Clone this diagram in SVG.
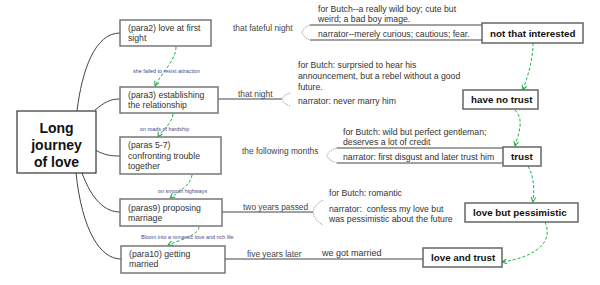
<svg xmlns="http://www.w3.org/2000/svg" width="600" height="285" viewBox="0 0 600 285">
<defs>
<style>
text{font-family:"Liberation Sans",Arial,sans-serif;fill:#333}
.n{font-size:8.7px}
.b{font-size:9.8px;font-weight:bold;fill:#111}
.lab{font-size:8.4px;fill:#444}
.sm{font-size:5.4px;fill:#4a4a90}
.box{fill:#fff;stroke:#777;stroke-width:1.5}
.rbox{fill:#fff;stroke:#666;stroke-width:1.5}
.br{fill:none;stroke:#444;stroke-width:1}
.brace{fill:none;stroke:#999;stroke-width:1;stroke-dasharray:1.5 1}
.g{fill:none;stroke:#21b04b;stroke-width:1;stroke-dasharray:3 2;marker-end:url(#ar)}
</style>
<marker id="ar" viewBox="0 0 10 10" refX="9" refY="5" markerWidth="6" markerHeight="6" orient="auto">
<path d="M1,1 L9,5 L1,9" fill="none" stroke="#21b04b" stroke-width="1.8"/>
</marker>
</defs>
<rect width="600" height="285" fill="#fff"/>

<g id="connectors">
<path class="br" d="M77,111 C82,70 95,33 120,33"/>
<path class="br" d="M95,110 C105,102 110,99 120,99"/>
<path class="br" d="M95,150 C105,155 110,156 120,156"/>
<path class="br" d="M82,173 C92,200 105,212 120,212"/>
<path class="br" d="M76,173 C82,230 100,259 121,259"/>

<path class="br" d="M218,99 H282"/>
<path class="br" d="M222,212 H313"/>
<path class="br" d="M225,259 H423"/>

<path class="br" d="M310,25 H482 M310,40 H482"/>
<path class="brace" d="M310,25 Q304,27 302,32.5 Q304,38 310,40"/>
<path class="brace" d="M290,93 Q284,95 282,99 Q284,104 290,106"/>
<path class="br" d="M337,148 H503 M337,163 H503"/>
<path class="brace" d="M337,148 Q329,150 327,155.5 Q329,161 337,163"/>
<path class="brace" d="M323,200 Q314,205 313,212 Q314,220 323,225"/>

<path class="g" d="M176,47 C176,60 160,75 155,86"/>
<path class="g" d="M173,114 C172,124 162,130 158,137"/>
<path class="g" d="M192,175 C191,185 178,192 170,198"/>
<path class="g" d="M199,227 C199,235 180,240 168,245"/>
<path class="g" d="M533,43 C533,60 528,75 523,90"/>
<path class="g" d="M515,110 C525,120 518,135 515,146"/>
<path class="g" d="M528,166 C535,180 534,190 533,202"/>
<path class="g" d="M545,222 C555,245 530,258 502,262"/>
</g>

<g id="edge-labels">
<text class="sm" x="133" y="73">she failed to resist attraction</text>
<text class="sm" x="140" y="131">on roads of hardship</text>
<text class="sm" x="158" y="193">on smooth highways</text>
<text class="sm" x="141" y="239">Bloom into a romantic love and rich life</text>
<text class="lab" x="233" y="31">that fateful night</text>
<text class="lab" x="238" y="97">that night</text>
<text class="lab" x="242" y="154">the following months</text>
<text class="lab" x="243" y="210">two years passed</text>
<text class="lab" x="247" y="257">five years later</text>
<text class="n" x="322" y="256" style="font-size:9px">we got married</text>
</g>

<g id="central">
<rect x="17" y="111" width="79" height="62" fill="#fff" stroke="#333" stroke-width="1.2"/>
<text x="56.5" y="133" text-anchor="middle" style="font-size:14px;font-weight:bold;fill:#111">Long</text>
<text x="56.5" y="150" text-anchor="middle" style="font-size:14px;font-weight:bold;fill:#111">journey</text>
<text x="56.5" y="167" text-anchor="middle" style="font-size:14px;font-weight:bold;fill:#111">of love</text>
</g>

<g id="para2">
<rect class="box" x="120" y="20" width="91" height="26"/>
<text class="n" x="128" y="31">(para2) love at first</text>
<text class="n" x="128" y="41">sight</text>
</g>
<g id="para3">
<rect class="box" x="120" y="87" width="98" height="26"/>
<text class="n" x="128" y="98">(para3) establishing</text>
<text class="n" x="128" y="108">the relationship</text>
</g>
<g id="paras5-7">
<rect class="box" x="120" y="137" width="101" height="37"/>
<text class="n" x="128" y="148">(paras 5-7)</text>
<text class="n" x="128" y="159">confronting trouble</text>
<text class="n" x="128" y="169">together</text>
</g>
<g id="paras9">
<rect class="box" x="120" y="199" width="102" height="27"/>
<text class="n" x="128" y="211">(paras9) proposing</text>
<text class="n" x="128" y="221">marriage</text>
</g>
<g id="para10">
<rect class="box" x="121" y="246" width="104" height="27"/>
<text class="n" x="129" y="257">(para10) getting</text>
<text class="n" x="129" y="267">married</text>
</g>

<g id="detail1">
<text class="n" x="318" y="12">for Butch--a really wild boy; cute but</text>
<text class="n" x="318" y="22">weird; a bad boy image.</text>
<text class="n" x="318" y="37">narrator--merely curious; cautious; fear.</text>
</g>
<g id="detail2">
<text class="n" x="298" y="68">for Butch: surprsied to hear his</text>
<text class="n" x="298" y="79">announcement, but a rebel without a good</text>
<text class="n" x="298" y="90">future.</text>
<text class="n" x="298" y="104">narrator: never marry him</text>
</g>
<g id="detail3">
<text class="n" x="343" y="135">for Butch: wild but perfect gentleman;</text>
<text class="n" x="343" y="145">deserves a lot of credit</text>
<text class="n" x="343" y="160">narrator: first disgust and later trust him</text>
</g>
<g id="detail4">
<text class="n" x="329" y="196">for Butch: romantic</text>
<text class="n" x="329" y="212">narrator:&#160; confess my love but</text>
<text class="n" x="329" y="222">was pessimistic about the future</text>
</g>

<g id="not-that-interested">
<rect class="rbox" x="482" y="23" width="101" height="20"/>
<text class="b" x="490" y="37">not that interested</text>
</g>
<g id="have-no-trust">
<rect class="rbox" x="463" y="90" width="75" height="19"/>
<text class="b" x="471" y="103">have no trust</text>
</g>
<g id="trust">
<rect class="rbox" x="503" y="147" width="38" height="19"/>
<text class="b" x="511" y="160">trust</text>
</g>
<g id="love-but-pessimistic">
<rect class="rbox" x="465" y="203" width="113" height="19"/>
<text class="b" x="473" y="216">love but pessimistic</text>
</g>
<g id="love-and-trust">
<rect class="rbox" x="423" y="248" width="79" height="19"/>
<text class="b" x="431" y="261">love and trust</text>
</g>
</svg>
